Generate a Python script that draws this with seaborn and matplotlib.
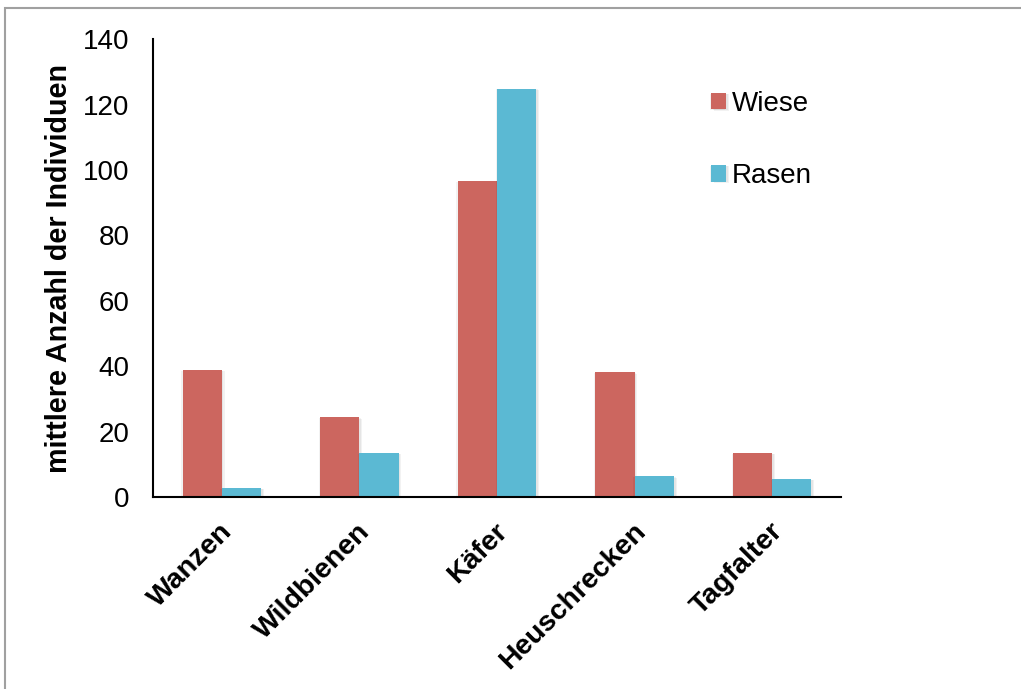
import matplotlib
matplotlib.use("Agg")
import matplotlib.pyplot as plt
import matplotlib.patheffects as pe
from matplotlib.patches import Rectangle
from matplotlib.transforms import ScaledTranslation
import numpy as np
import pandas as pd
import seaborn as sns

# Mean number of individuals per insect group in meadow vs. lawn plots
categories = ["Wanzen", "Wildbienen", "Käfer", "Heuschrecken", "Tagfalter"]
wiese = [38.9, 24.4, 96.7, 38.1, 13.5]
rasen = [2.8, 13.5, 124.9, 6.3, 5.5]
series_names = ["Wiese", "Rasen"]
colors = ["#CC665F", "#5BB9D3"]
y_ticks = [0, 20, 40, 60, 80, 100, 120, 140]

df = pd.DataFrame({
    "Gruppe": categories * 2,
    "Fläche": [series_names[0]] * len(categories) + [series_names[1]] * len(categories),
    "Anzahl": wiese + rasen,
})

sns.set_theme(style="white")
plt.rcParams["font.family"] = ["Liberation Sans", "DejaVu Sans"]
plt.rcParams["text.color"] = "black"
plt.rcParams["axes.labelcolor"] = "black"
plt.rcParams["xtick.color"] = "black"
plt.rcParams["ytick.color"] = "black"

W, H, DPI = 1021, 689, 100
fig = plt.figure(figsize=(W / DPI, H / DPI), dpi=DPI)
ax = fig.add_axes([153 / W, 1 - 497 / H, (841 - 153) / W, (497 - 39.3) / H])

sns.barplot(data=df, x="Gruppe", y="Anzahl", hue="Fläche", order=categories,
            hue_order=series_names, palette=colors, width=0.571,
            linewidth=0, edgecolor="none", saturation=1, errorbar=None, ax=ax)

# soft drop shadow behind the bars, built from a few faint layers
shadow = [pe.SimplePatchShadow(offset=o, shadow_rgbFace="black", alpha=0.05)
          for o in [(2.0, -1.0), (1.2, -0.6), (-1.0, -0.6)]]
for patch in ax.patches:
    patch.set_path_effects(shadow + [pe.Normal()])

ax.set_xlim(-0.5, len(categories) - 0.5)
ax.set_ylim(0, 140)
ax.set_yticks(y_ticks)
ax.set_yticklabels([str(v) for v in y_ticks], fontsize=20)

# category boundaries carry the tick marks, labels sit at the centres
ax.set_xticks(np.arange(-0.5, len(categories), 1.0))
ax.set_xticklabels([])
ax.set_xticks(np.arange(len(categories)), minor=True)
ax.set_xticklabels(categories, minor=True, rotation=45, ha="right", va="center",
                   rotation_mode="anchor", fontsize=20.5, fontweight="bold")
ax.tick_params(axis="x", which="minor", length=0, pad=22)
ax.tick_params(axis="both", which="major", direction="out", length=5, width=1.5)
ax.tick_params(axis="y", pad=12)
shift = ScaledTranslation(7 / DPI, 0, fig.dpi_scale_trans)
for lab in ax.get_xticklabels(minor=True):
    lab.set_transform(lab.get_transform() + shift)

ax.set_xlabel("")
ax.set_ylabel("mittlere Anzahl der Individuen", fontsize=20.7, fontweight="bold", labelpad=7)

for side in ["top", "right"]:
    ax.spines[side].set_visible(False)
for side in ["left", "bottom"]:
    ax.spines[side].set_color("black")
    ax.spines[side].set_linewidth(1.5)

handles, labels = ax.get_legend_handles_labels()
ax.legend(handles, labels, loc="upper left", bbox_to_anchor=(711 / W, 1 - 91 / H),
          bbox_transform=fig.transFigure, frameon=False, fontsize=20,
          handlelength=0.54, handleheight=0.54, handletextpad=0.22,
          labelspacing=1.66, borderpad=0, borderaxespad=0, title=None)

# thin grey chart-area border
fig.patches.append(Rectangle((5 / W, -0.05), 1.2, 1 - 8 / H + 0.05, transform=fig.transFigure,
                             fill=False, edgecolor="#A0A0A0", linewidth=1.5, zorder=-1))

fig.savefig("out.png", dpi=DPI, facecolor="white")
